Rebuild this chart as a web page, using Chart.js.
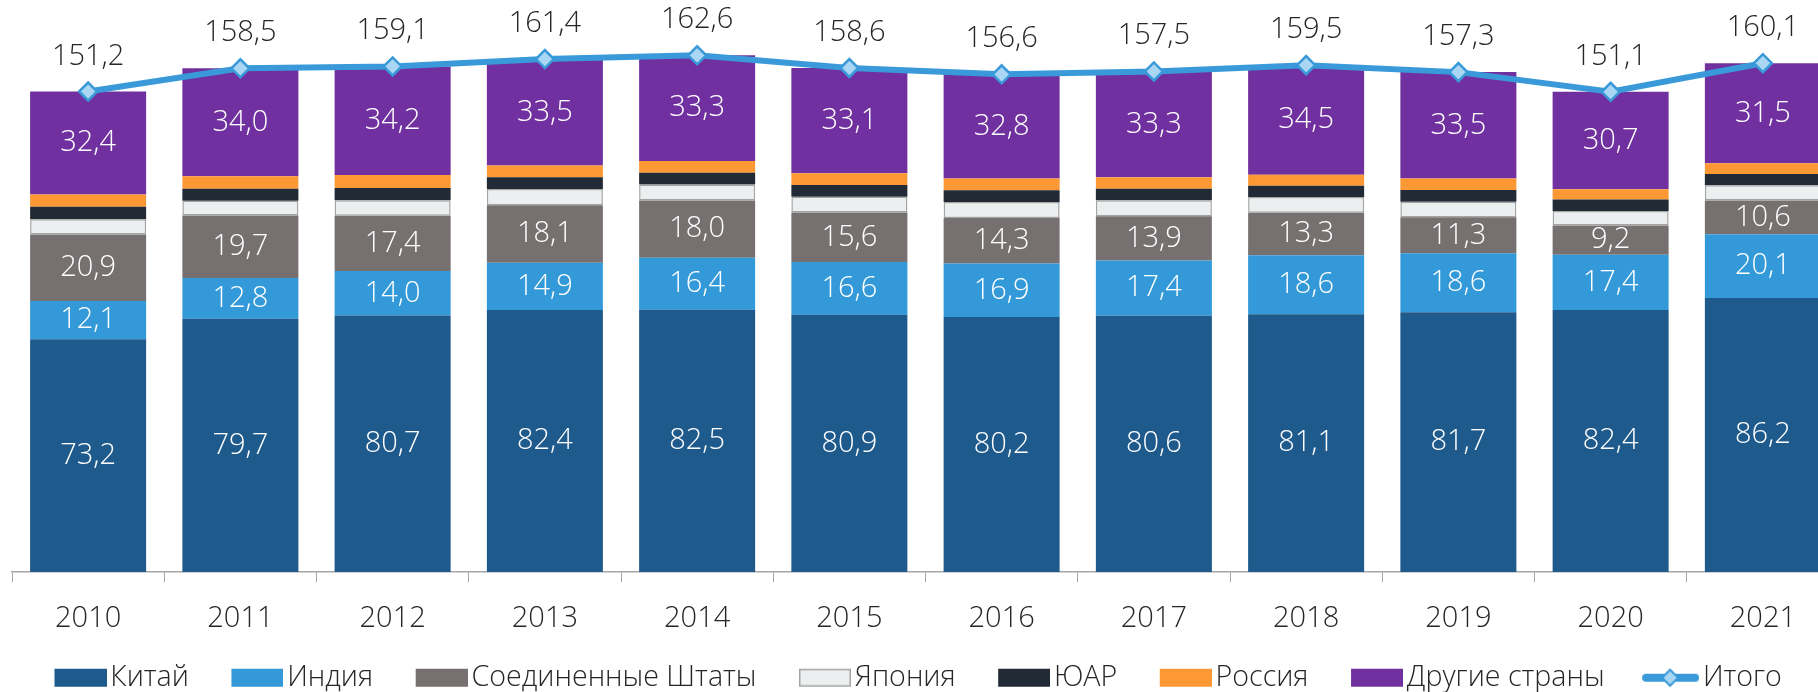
<!DOCTYPE html>
<html>
<head>
<meta charset="utf-8">
<script src="https://cdn.jsdelivr.net/npm/chart.js@4.4.1/dist/chart.umd.min.js"></script>
<style>
  html, body { margin: 0; padding: 0; background: #fff; overflow: hidden; }
  #wrap { width: 1839px; height: 702px; }
</style>
</head>
<body>
<div id="wrap"><canvas id="chart" width="1839" height="702"></canvas></div>
<script>
const years = ["2010", "2011", "2012", "2013", "2014", "2015", "2016", "2017", "2018", "2019", "2020", "2021"];
const china = [73.2, 79.7, 80.7, 82.4, 82.5, 80.9, 80.2, 80.6, 81.1, 81.7, 82.4, 86.2];
const india = [12.1, 12.8, 14.0, 14.9, 16.4, 16.6, 16.9, 17.4, 18.6, 18.6, 17.4, 20.1];
const usa = [20.9, 19.7, 17.4, 18.1, 18.0, 15.6, 14.3, 13.9, 13.3, 11.3, 9.2, 10.6];
const japan = [4.8, 4.6, 4.9, 5.1, 5.0, 5.0, 5.0, 5.1, 5.0, 4.9, 4.6, 4.8];
const southAfrica = [3.9, 3.8, 3.8, 3.7, 3.7, 3.7, 3.7, 3.6, 3.5, 3.7, 3.6, 3.5];
const russia = [3.9, 3.9, 4.1, 3.7, 3.7, 3.7, 3.7, 3.6, 3.5, 3.6, 3.2, 3.4];
const others = [32.4, 34.0, 34.2, 33.5, 33.3, 33.1, 32.8, 33.3, 34.5, 33.5, 30.7, 31.5];
const totals = [151.2, 158.5, 159.1, 161.4, 162.6, 158.6, 156.6, 157.5, 159.5, 157.3, 151.1, 160.1];

const FONT = "'Open Sans', 'Noto Sans', sans-serif";
const FS = 29;
const LEG_FS = 28.6;
const fmt = v => v.toFixed(1).replace(".", ",");

// legend swatch geometry: the image is centred in a slot of SLOT px, text follows at SLOT + font/2
const SLOT = 74;
const IMG_W = Math.round(2 * (SLOT / 2 + LEG_FS / 2 - 4));

function swatch(color, border) {
  const c = document.createElement("canvas");
  c.width = IMG_W; c.height = 20;
  const ctx = c.getContext("2d");
  const x0 = IMG_W - 52;
  ctx.fillStyle = color;
  ctx.fillRect(x0, 1, 52, 18);
  if (border) {
    ctx.strokeStyle = border;
    ctx.lineWidth = 1.5;
    ctx.strokeRect(x0 + 0.75, 1.75, 50.5, 16.5);
  }
  return c;
}
function lineSwatch() {
  const c = document.createElement("canvas");
  c.width = IMG_W; c.height = 22;
  const ctx = c.getContext("2d");
  const x0 = IMG_W - 57;
  ctx.strokeStyle = "#3a9ad9";
  ctx.lineWidth = 8;
  ctx.lineCap = "round";
  ctx.beginPath(); ctx.moveTo(x0 + 4, 11); ctx.lineTo(IMG_W - 4, 11); ctx.stroke();
  const cx = x0 + 28;
  ctx.beginPath();
  ctx.moveTo(cx, 3); ctx.lineTo(cx + 8, 11); ctx.lineTo(cx, 19); ctx.lineTo(cx - 8, 11); ctx.closePath();
  ctx.fillStyle = "#a9d6f3"; ctx.fill();
  ctx.lineWidth = 2; ctx.strokeStyle = "#3a9ad9"; ctx.stroke();
  return c;
}

const labelled = [0, 1, 2, 6];

const valueLabels = {
  id: "valueLabels",
  afterDatasetsDraw(chart) {
    const ctx = chart.ctx;
    ctx.save();
    ctx.font = "300 " + FS + "px " + FONT;
    ctx.textAlign = "center";
    ctx.textBaseline = "middle";
    ctx.fillStyle = "#ffffff";
    labelled.forEach(di => {
      const meta = chart.getDatasetMeta(di);
      meta.data.forEach((bar, i) => {
        const v = chart.data.datasets[di].data[i];
        ctx.fillText(fmt(v), bar.x, (bar.y + bar.base) / 2);
      });
    });
    const lineMeta = chart.getDatasetMeta(7);
    ctx.fillStyle = "#262626";
    ctx.textBaseline = "alphabetic";
    lineMeta.data.forEach((pt, i) => {
      ctx.fillText(fmt(totals[i]), pt.x, pt.y - 27);
    });
    ctx.restore();
  }
};

const ds = (label, data, color, extra) => Object.assign({
  type: "bar", label, data, backgroundColor: color, borderWidth: 0,
  stack: "s", order: 1, barPercentage: 0.762, categoryPercentage: 1,
  legendImg: swatch(color)
}, extra || {});

new Chart(document.getElementById("chart"), {
  data: {
    labels: years,
    datasets: [
      ds("Китай", china, "#1f5a8c"),
      ds("Индия", india, "#3399d9"),
      ds("Соединенные Штаты", usa, "#767170"),
      ds("Япония", japan, "#ebeff0", { borderWidth: 1.5, borderColor: "#a3a3a3", borderSkipped: false, legendImg: swatch("#ebeff0", "#a3a3a3") }),
      ds("ЮАР", southAfrica, "#222a35"),
      ds("Россия", russia, "#fd9935"),
      ds("Другие страны", others, "#70309f"),
      {
        type: "line", label: "Итого", data: totals, stack: "total", order: 0,
        borderColor: "#3a9ad9", borderWidth: 6, tension: 0,
        pointStyle: "rectRot", pointRadius: 9, pointBorderWidth: 2.5,
        pointBackgroundColor: "#a9d6f3", pointBorderColor: "#3a9ad9",
        legendImg: lineSwatch()
      }
    ]
  },
  options: {
    responsive: false,
    animation: false,
    layout: { autoPadding: false, padding: { left: 12, right: 0, top: 0, bottom: 0 } },
    scales: {
      x: {
        stacked: true,
        afterFit(scale) { scale.height = 81.5; },
        grid: { drawOnChartArea: false, drawTicks: true, tickLength: 10, color: "#a6a6a6" },
        border: { display: true, color: "#a6a6a6", width: 1.5 },
        ticks: { color: "#262626", font: { family: FONT, size: FS, weight: "300" }, padding: 19 }
      },
      y: {
        stacked: true, display: false, min: 0, max: 180
      }
    },
    plugins: {
      tooltip: { enabled: false },
      legend: {
        position: "bottom",
        align: "start",
        labels: {
          usePointStyle: true,
          pointStyleWidth: SLOT,
          padding: 10,
          color: "#262626",
          font: { family: FONT, size: LEG_FS, weight: "300" },
          generateLabels(chart) {
            return chart.data.datasets.map((d, i) => ({
              text: d.label, pointStyle: d.legendImg, fontColor: "#262626",
              datasetIndex: i, hidden: false, lineWidth: 0
            }));
          }
        }
      }
    }
  },
  plugins: [valueLabels]
});
</script>
</body>
</html>
